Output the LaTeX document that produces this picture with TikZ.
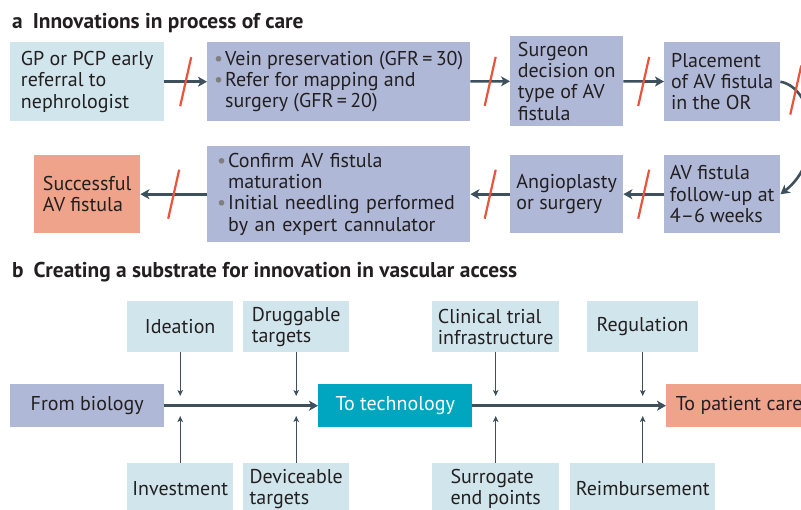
\documentclass[tikz,border=0pt]{standalone}
\usepackage{fontspec}
\setmainfont{PT Sans}
\usetikzlibrary{arrows.meta}
\definecolor{lblue}{HTML}{D1E6EC}
\definecolor{lav}{HTML}{AFB8D7}
\definecolor{salmon}{HTML}{EEA38A}
\definecolor{tealbox}{HTML}{00A6BF}
\definecolor{arr}{HTML}{3E505B}
\definecolor{slashred}{HTML}{E8553C}
\definecolor{txt}{HTML}{231F20}
\definecolor{bulgray}{HTML}{7F7F7F}
\newcommand{\bul}{\makebox[11pt][l]{\textcolor{bulgray}{\textbullet}}}
\newcommand{\ind}{\hspace*{11pt}}
\begin{document}
\begin{tikzpicture}[x=1pt,y=-1pt,
  every node/.style={text=txt, font=\fontsize{20}{21.3}\selectfont},
  pbox/.style={inner sep=0pt, anchor=north west, align=left},
  ttl/.style={inner sep=0pt, anchor=base west, font=\fontsize{21.4}{24}\selectfont\bfseries},
  flow/.style={draw=arr, line width=2.6pt, -{Stealth[length=9pt,width=10pt,inset=2.5pt]}},
  slash/.style={draw=slashred, line width=2.2pt},
  thinarr/.style={draw=arr, line width=1.3pt, -{Stealth[length=6pt,width=5.5pt,inset=1.5pt]}}
]
\clip (0,0) rectangle (801,509);
\fill[white] (0,0) rectangle (801,509);

% ---------- panel a ----------
\node[ttl] (ta) at (12,28) {a\hspace*{10pt}Innovations in process of care};

\node[pbox, fill=lblue, minimum width=154pt, minimum height=79pt] (a1) at (10,42)
  {GP or PCP early\\referral to\\nephrologist};
\node[pbox, fill=lav, minimum width=263pt, minimum height=79pt] (a2) at (207,42)
  {\bul Vein preservation (GFR\,=\,30)\\\bul Refer for mapping and\\\ind surgery (GFR\,=\,20)};
\node[pbox, fill=lav, minimum width=113pt, minimum height=90pt] (a3) at (510,36)
  {Surgeon\\decision on\\type of AV\\fistula};
\node[pbox, fill=lav, minimum width=116pt, minimum height=79pt] (a4) at (664,42)
  {Placement\\of AV fistula\\in the OR};

\node[pbox, fill=salmon, minimum width=106pt, minimum height=78pt] (b1) at (34,155)
  {Successful\\AV fistula};
\node[pbox, fill=lav, minimum width=263pt, minimum height=96pt, text width=243pt, inner xsep=10pt] (b2) at (207,146)
  {\bul Confirm AV fistula\\\ind maturation\\\bul Initial needling performed\\\ind by an expert cannulator};
\node[pbox, fill=lav, minimum width=113pt, minimum height=78pt] (b3) at (510,155)
  {Angioplasty\\or surgery};
\node[pbox, fill=lav, minimum width=116pt, minimum height=78pt] (b4) at (664,155)
  {AV fistula\\follow-up at\\4--6 weeks};

\draw[flow] (a1) -- coordinate[midway] (m1) (a2);
\draw[flow] (a2) -- coordinate[midway] (m2) (a3);
\draw[flow] (a3) -- coordinate[midway] (m3) (a4);
\draw[flow] (a4.east) .. controls (815,88) and (825,160) .. coordinate[pos=0.17] (m4) (b4.east);
\draw[flow] (b4) -- coordinate[midway] (m5) (b3);
\draw[flow] (b3) -- coordinate[midway] (m6) (b2);
\draw[flow] (b2) -- coordinate[midway] (m7) (b1);

\foreach \m in {m1,m2,m3,m4,m5,m6,m7}
  \draw[slash] (\m) +(-5.5,24.5) -- +(5.5,-24.5);

% ---------- panel b ----------
\node[ttl] (tb) at (12,277) {b\hspace*{10pt}Creating a substrate for innovation in vascular access};

\node[pbox, fill=lblue, minimum width=106pt, minimum height=51pt] (id) at (127,301) {Ideation};
\node[pbox, fill=lblue, minimum width=106pt, minimum height=51pt] (dr) at (243,301) {Druggable\\targets};
\node[pbox, fill=lblue, minimum width=127pt, minimum height=51pt] (cl) at (432,301) {Clinical trial\\infrastructure};
\node[pbox, fill=lblue, minimum width=111pt, minimum height=51pt] (rg) at (587,301) {Regulation};

\node[pbox, fill=lav, minimum width=154pt, minimum height=43pt] (bio) at (10,384) {From biology};
\node[pbox, fill=tealbox, text=white, minimum width=154pt, minimum height=43pt] (tech) at (318,384) {To technology};
\node[pbox, fill=salmon, minimum width=146pt, minimum height=43pt] (pat) at (666,384) {To patient care};

\node[pbox, fill=lblue, minimum width=106pt, minimum height=51pt] (inv) at (127,463) {Investment};
\node[pbox, fill=lblue, minimum width=106pt, minimum height=51pt] (dv) at (243,463) {Deviceable\\targets};
\node[pbox, fill=lblue, minimum width=127pt, minimum height=51pt] (su) at (432,463) {Surrogate\\end points};
\node[pbox, fill=lblue, minimum width=145pt, minimum height=51pt] (re) at (570,463) {Reimbursement};

\draw[flow] (bio) -- (tech);
\draw[flow] (tech) -- (pat);

\coordinate (e1) at (id.south |- 0,396);
\coordinate (e2) at (dr.south |- 0,396);
\coordinate (e3) at (cl.south |- 0,396);
\coordinate (e4) at (rg.south |- 0,396);
\coordinate (f1) at (inv.north |- 0,416);
\coordinate (f2) at (dv.north |- 0,416);
\coordinate (f3) at (su.north |- 0,416);
\coordinate (f4) at (re.north |- 0,416);
\draw[thinarr] (id.south) -- (e1);
\draw[thinarr] (dr.south) -- (e2);
\draw[thinarr] (cl.south) -- (e3);
\draw[thinarr] (rg.south) -- (e4);
\draw[thinarr] (inv.north) -- (f1);
\draw[thinarr] (dv.north) -- (f2);
\draw[thinarr] (su.north) -- (f3);
\draw[thinarr] (re.north) -- (f4);
\end{tikzpicture}
\end{document}
